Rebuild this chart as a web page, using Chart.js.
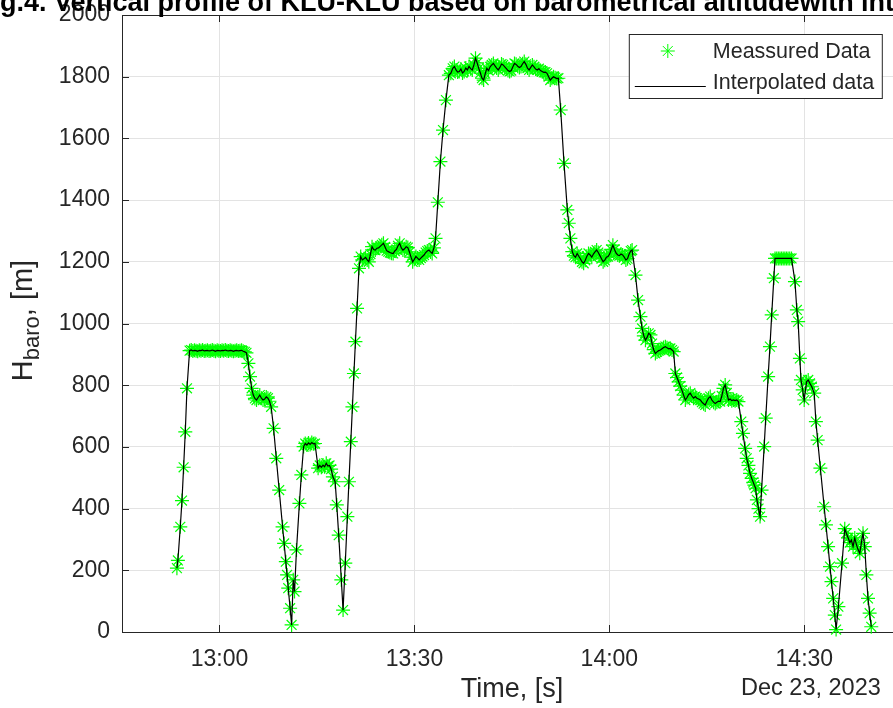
<!DOCTYPE html>
<html>
<head>
<meta charset="utf-8">
<title>Vertical profile KLU-KLU</title>
<script src="https://cdn.jsdelivr.net/npm/chart.js@4.4.1/dist/chart.umd.min.js"></script>
<style>
  html, body { margin: 0; padding: 0; background: #ffffff; overflow: hidden; }
  #wrap { position: absolute; left: 0; top: 0; width: 910px; height: 708px; }
</style>
</head>
<body>
<div id="wrap"><canvas id="baro-profile"></canvas></div>
<script>
// time of each sample, minutes after midnight (23 Dec 2023)
var timeMin = [
  773.45, 773.60, 773.97, 774.23, 774.48, 774.74, 775.00, 775.40,
  775.65, 775.90, 776.15, 776.40, 776.65, 776.90, 777.15, 777.40, 777.65, 777.90,
  778.15, 778.40, 778.65, 778.90, 779.15, 779.40, 779.65, 779.90, 780.15, 780.40,
  780.65, 780.90, 781.15, 781.40, 781.65, 781.90, 782.15, 782.40, 782.65, 782.90,
  783.15, 783.40, 783.65, 783.90, 784.15,
  784.45, 784.70, 784.95, 785.20, 785.45, 785.70, 785.95, 786.20, 786.45, 786.70,
  786.95, 787.20, 787.45, 787.70, 787.95, 788.33, 788.74, 789.19, 789.71, 789.95,
  790.21, 790.40, 790.58, 790.87, 791.10,
  791.35, 791.55, 791.85, 792.30, 792.60, 792.95, 793.20, 793.45, 793.70, 793.95,
  794.20, 794.45, 794.70, 795.18, 795.43, 795.68, 795.93, 796.18, 796.43, 796.68,
  796.93, 797.18, 797.45, 797.80, 798.05, 798.35, 798.75, 799.02,
  799.36, 799.68, 799.92, 800.21, 800.46, 800.69, 800.92, 801.17, 801.47, 801.73,
  801.98, 802.23, 802.48, 802.73, 802.98, 803.23, 803.48, 803.73, 803.98, 804.23,
  804.48, 804.73, 804.98, 805.23, 805.48, 805.73, 805.98, 806.23, 806.48, 806.73,
  806.98, 807.23, 807.48, 807.73, 807.98, 808.23, 808.48, 808.73, 808.98, 809.23,
  809.48, 809.73, 809.98, 810.23, 810.48, 810.73, 810.98, 811.23, 811.48, 811.73,
  811.98, 812.23, 812.48, 812.73, 813.00,
  813.25, 813.60, 814.00, 814.40, 814.85, 815.30, 815.60, 815.90,
  816.15, 816.40, 816.65, 816.90, 817.15, 817.40, 817.65, 817.90, 818.15, 818.40,
  818.65, 818.90, 819.15, 819.40, 819.65, 819.90, 820.15, 820.40, 820.65, 820.90,
  821.15, 821.40, 821.65, 821.90, 822.15, 822.40, 822.65, 822.90, 823.15, 823.40,
  823.65, 823.90, 824.15, 824.40, 824.65, 824.90, 825.15, 825.40, 825.65, 825.90,
  826.15, 826.40, 826.65, 826.90, 827.15, 827.40, 827.65, 827.90, 828.15, 828.40,
  828.65, 828.90, 829.15, 829.40, 829.65, 829.90, 830.15, 830.40, 830.65, 830.90,
  831.15, 831.40, 831.65, 831.90, 832.15,
  832.51, 833.02, 833.53, 833.75, 834.00, 834.29,
  834.54, 834.79, 835.04, 835.29, 835.54, 835.79, 836.04, 836.29, 836.54, 836.79,
  837.04, 837.29, 837.54, 837.79, 838.04, 838.29, 838.54, 838.79, 839.04, 839.29,
  839.54, 839.79, 840.04, 840.29, 840.54, 840.79, 841.04, 841.29, 841.54, 841.79,
  842.04, 842.29, 842.54, 842.79, 843.04, 843.29, 843.50,
  844.02, 844.42, 844.78, 845.03, 845.30, 845.55, 845.80, 846.05, 846.32, 846.57,
  846.82, 847.08, 847.33, 847.58, 847.85, 848.10, 848.35, 848.62, 848.87, 849.12,
  849.38, 849.64, 849.89, 850.15, 850.40, 850.66, 850.91, 851.16, 851.42, 851.69,
  851.95, 852.20, 852.45, 852.70, 852.96, 853.22, 853.47, 853.73, 853.99, 854.24,
  854.50, 854.75, 855.00, 855.26, 855.52, 855.77, 856.03, 856.29, 856.54, 856.80,
  857.05, 857.30, 857.56, 857.82, 858.07, 858.33, 858.58, 858.84, 859.09, 859.35,
  859.60, 859.86,
  860.30, 860.55, 860.89, 861.13, 861.40, 861.65, 861.90, 862.15, 862.31, 862.51,
  862.70, 862.95, 863.19, 863.42, 863.82, 864.06, 864.43, 864.71, 864.98, 865.31,
  865.49, 865.75, 866.00, 866.25, 866.50, 866.75, 867.00, 867.25, 867.50, 867.75,
  868.03,
  868.56, 868.85, 869.05, 869.32, 869.48, 869.75, 869.98, 870.34, 870.60, 870.86,
  871.15, 871.52, 871.78, 872.05, 872.47, 873.05, 873.33, 873.66, 873.95, 874.18,
  874.44, 874.69, 874.89, 875.24, 875.80, 876.22, 876.47, 876.75, 877.00, 877.24,
  877.50, 877.76, 878.00, 878.25, 878.53, 878.78, 879.03, 879.30, 879.55, 879.80,
  880.05, 880.30
];

// barometric altitude, m
var altitudeM = [
  207, 232, 341, 426, 534, 649, 790, 912,
  914, 911, 913, 912, 910, 913, 912, 914, 911, 912,
  913, 911, 912, 914, 912, 910, 913, 912, 911, 913,
  912, 914, 912, 911, 913, 912, 910, 912, 913, 911,
  912, 913, 910, 908, 905,
  871, 828, 790, 768, 757, 752, 760, 768, 758, 752,
  755, 762, 758, 748, 730, 660, 563, 460, 341, 287,
  228, 185, 142, 77, 23,
  169, 131, 266, 417, 509, 601, 611, 606, 613, 608,
  614, 610, 611, 531, 540, 534, 541, 536, 547, 538,
  540, 528, 503, 487, 412, 314, 169, 71,
  223, 374, 487, 617, 730, 838, 941, 1049, 1179, 1217,
  1206, 1210, 1214, 1206, 1200, 1225, 1249, 1240, 1238, 1244,
  1245, 1250, 1255, 1260, 1248, 1236, 1233, 1230, 1228, 1227,
  1235, 1240, 1252, 1260, 1245, 1238, 1242, 1249, 1246, 1232,
  1215, 1200, 1208, 1217, 1212, 1206, 1212, 1217, 1222, 1230,
  1235, 1238, 1232, 1227, 1245,
  1276, 1393, 1525, 1627, 1724, 1805, 1811, 1827,
  1833, 1822, 1815, 1817, 1825, 1812, 1817, 1828, 1822, 1833,
  1826, 1822, 1838, 1860, 1845, 1827, 1812, 1795, 1789, 1810,
  1827, 1820, 1832, 1838, 1843, 1835, 1828, 1822, 1830, 1841,
  1838, 1832, 1826, 1820, 1817, 1820, 1832, 1843, 1840, 1834,
  1830, 1833, 1842, 1849, 1840, 1828, 1822, 1830, 1838, 1832,
  1825, 1822, 1826, 1820, 1817, 1814, 1815, 1811, 1800, 1789,
  1795, 1800, 1797, 1794, 1795,
  1692, 1519, 1368, 1325, 1276, 1233,
  1220, 1215, 1227, 1218, 1210, 1200, 1195, 1205, 1218, 1227,
  1222, 1215, 1225, 1232, 1238, 1230, 1220, 1210, 1200, 1205,
  1215, 1217, 1225, 1240, 1254, 1240, 1228, 1222, 1220, 1225,
  1222, 1215, 1206, 1210, 1225, 1235, 1238,
  1157, 1076, 1022, 984, 960, 946, 955, 968, 963, 935,
  915, 903, 908, 912, 914, 918, 922, 925, 921, 918,
  919, 914, 909, 838, 825, 811, 797, 784, 768, 752,
  760, 770, 774, 765, 758, 763, 758, 755, 752, 745,
  740, 736, 748, 758, 763, 752, 745, 741, 745, 748,
  747, 765, 790, 801, 775, 752, 755, 750, 752, 750,
  752, 747,
  682, 644, 595, 563, 540, 514, 498, 485, 476, 466,
  428, 400, 374, 460, 601, 693, 828, 925, 1028, 1147,
  1211, 1211, 1211, 1211, 1211, 1211, 1211, 1211, 1211, 1211,
  1211,
  1136, 1044, 1006, 887, 817, 785, 752, 811, 817, 806,
  795, 774, 682, 622, 531, 406, 347, 277, 212, 163,
  109, 55, 8, 82, 223, 335, 320, 305, 290, 298,
  277, 305, 285, 268, 255, 290, 320, 277, 185, 109,
  61, 17
];

var tickMinutes = [780, 810, 840, 870];
var tickLabels = ['13:00', '13:30', '14:00', '14:30'];
var dateLabel = 'Dec 23, 2023';
var seriesNames = ['Meassured Data', 'Interpolated data'];
var titleText = 'Fig.4. Vertical profile of KLU-KLU based on barometrical altitudewith interpolation';
var xTitle = 'Time, [s]';
var yTitleMain = 'H';
var yTitleSub = 'baro';
var yTitleUnit = ', [m]';

var FONT = '"Liberation Sans", Arial, Helvetica, sans-serif';
var INK = '#262626';
var GREEN = '#00ff00';

var points = [];
for (var i = 0; i < Math.min(timeMin.length, altitudeM.length); i++) {
  points.push({ x: timeMin[i], y: altitudeM[i] });
}

function drawStar(ctx, x, y, r) {
  if (Chart.helpers && Chart.helpers.drawPoint) {
    Chart.helpers.drawPoint(ctx, { pointStyle: 'star', radius: r, borderWidth: 1.2, rotation: 0 }, x, y);
    return;
  }
  ctx.beginPath();
  ctx.moveTo(x - r, y); ctx.lineTo(x + r, y);
  ctx.moveTo(x, y - r); ctx.lineTo(x, y + r);
  var d = r * Math.SQRT1_2;
  ctx.moveTo(x - d, y - d); ctx.lineTo(x + d, y + d);
  ctx.moveTo(x - d, y + d); ctx.lineTo(x + d, y - d);
  ctx.stroke();
}

// matlab-like extras: box, inward ticks, title, y label with subscript, date, legend
var figureDecor = {
  id: 'figureDecor',
  afterDraw: function (chart) {
    var ctx = chart.ctx;
    var a = chart.chartArea;
    var xs = chart.scales.x, ys = chart.scales.y;
    ctx.save();

    // box + inward ticks
    ctx.strokeStyle = INK;
    ctx.lineWidth = 1;
    ctx.beginPath();
    ctx.moveTo(a.left, a.top + 0.5); ctx.lineTo(a.right, a.top + 0.5);
    ctx.moveTo(a.right - 0.5, a.top); ctx.lineTo(a.right - 0.5, a.bottom);
    tickMinutes.forEach(function (v) {
      var px = Math.round(xs.getPixelForValue(v)) + 0.5;
      ctx.moveTo(px, a.bottom); ctx.lineTo(px, a.bottom - 7);
      ctx.moveTo(px, a.top); ctx.lineTo(px, a.top + 7);
    });
    ys.ticks.forEach(function (t) {
      var py = Math.round(ys.getPixelForValue(t.value)) + 0.5;
      ctx.moveTo(a.left, py); ctx.lineTo(a.left + 7, py);
    });
    ctx.stroke();

    // title (cut off by the frame like in the source picture)
    ctx.fillStyle = '#000000';
    ctx.font = 'bold 27px ' + FONT;
    ctx.textAlign = 'left';
    ctx.textBaseline = 'alphabetic';
    ctx.fillText(titleText, a.left - 146, a.top - 4);

    // y axis label H_baro, [m]
    var big = '29px ' + FONT, small = '22px ' + FONT;
    ctx.font = big;
    var wH = ctx.measureText(yTitleMain).width;
    var wU = ctx.measureText(yTitleUnit).width;
    ctx.font = small;
    var wS = ctx.measureText(yTitleSub).width;
    var total = wH + wS + wU;
    ctx.save();
    ctx.translate(a.left - 90, (a.top + a.bottom) / 2 - 3 + total / 2);
    ctx.rotate(-Math.PI / 2);
    ctx.fillStyle = INK;
    ctx.font = big; ctx.fillText(yTitleMain, 0, 0);
    ctx.font = small; ctx.fillText(yTitleSub, wH, 7);
    ctx.font = big; ctx.fillText(yTitleUnit, wH + wS, 0);
    ctx.restore();

    // date under the time ticks
    ctx.fillStyle = INK;
    ctx.font = '23.5px ' + FONT;
    ctx.textAlign = 'right';
    ctx.textBaseline = 'middle';
    ctx.fillText(dateLabel, a.right - 21, a.bottom + 57);

    // legend
    var lx = a.right - 273, ly = a.top + 19, lw = 253, lh = 64;
    ctx.fillStyle = '#ffffff';
    ctx.fillRect(lx, ly, lw, lh);
    ctx.strokeStyle = INK;
    ctx.lineWidth = 1;
    ctx.strokeRect(lx + 0.5, ly + 0.5, lw, lh);
    ctx.font = '21.5px ' + FONT;
    ctx.textAlign = 'left';
    ctx.textBaseline = 'middle';
    ctx.fillStyle = INK;
    ctx.fillText(seriesNames[0], lx + 84, ly + 18);
    ctx.fillText(seriesNames[1], lx + 84, ly + 49);
    ctx.strokeStyle = GREEN;
    drawStar(ctx, lx + 39, ly + 17, 7);
    ctx.strokeStyle = '#000000';
    ctx.lineWidth = 1.1;
    ctx.beginPath();
    ctx.moveTo(lx + 6, ly + 52.5); ctx.lineTo(lx + 77, ly + 52.5);
    ctx.stroke();

    ctx.restore();
  }
};

var chart = new Chart(document.getElementById('baro-profile'), {
  type: 'scatter',
  data: {
    datasets: [
      {
        label: seriesNames[1],
        type: 'line',
        data: points,
        borderColor: '#000000',
        borderWidth: 1.2,
        pointRadius: 0,
        tension: 0,
        fill: false,
        order: 0
      },
      {
        label: seriesNames[0],
        data: points,
        pointStyle: 'star',
        pointRadius: 7,
        pointBorderWidth: 1.2,
        borderColor: GREEN,
        backgroundColor: GREEN,
        clip: false,
        order: 1
      }
    ]
  },
  options: {
    responsive: true,
    maintainAspectRatio: false,
    animation: false,
    devicePixelRatio: 1,
    layout: { padding: { top: 15, right: 6, bottom: 0, left: 0 } },
    plugins: {
      legend: { display: false },
      tooltip: { enabled: false },
      title: { display: false }
    },
    scales: {
      x: {
        type: 'linear',
        min: 765,
        max: 885,
        afterBuildTicks: function (scale) {
          scale.ticks = tickMinutes.map(function (v) { return { value: v }; });
        },
        afterFit: function (scale) {
          scale.height = 76;
          scale.paddingLeft = 0;
          scale.paddingRight = 0;
        },
        grid: { color: '#e3e3e3', lineWidth: 1, drawTicks: false },
        border: { display: true, color: INK, width: 1 },
        ticks: {
          padding: 14,
          color: INK,
          font: { family: FONT, size: 23 },
          maxRotation: 0,
          callback: function (value) {
            var k = tickMinutes.indexOf(value);
            return k >= 0 ? tickLabels[k] : '';
          }
        },
        title: {
          display: true,
          text: xTitle,
          color: INK,
          font: { family: FONT, size: 27 },
          padding: { top: 0, bottom: 2 }
        }
      },
      y: {
        min: 0,
        max: 2000,
        afterFit: function (scale) {
          scale.width = 122;
          scale.paddingTop = 0;
          scale.paddingBottom = 0;
        },
        grid: { color: '#e3e3e3', lineWidth: 1, drawTicks: false },
        border: { display: true, color: INK, width: 1 },
        ticks: {
          stepSize: 200,
          padding: 12,
          color: INK,
          font: { family: FONT, size: 23 },
          callback: function (value) { return String(value); }
        },
        title: { display: false }
      }
    }
  },
  plugins: [figureDecor]
});
</script>
</body>
</html>
